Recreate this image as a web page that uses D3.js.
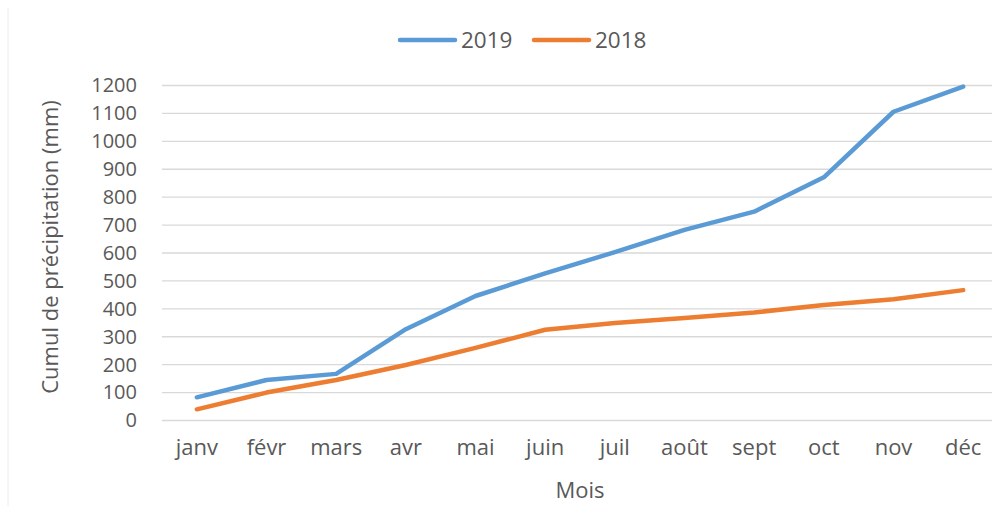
<!DOCTYPE html>
<html>
<head>
<meta charset="utf-8">
<script src="https://cdn.jsdelivr.net/npm/d3@7"></script>
<style>
body { margin: 0; background: #fff; }
text { font-family: "Open Sans", sans-serif; fill: #595959; }
</style>
</head>
<body>
<svg width="992" height="506"></svg>
<script>
// months and cumulative rainfall (mm)
var months = ["janv", "févr", "mars", "avr", "mai", "juin", "juil", "août", "sept", "oct", "nov", "déc"];
var rain2019 = [83, 145, 167, 327, 446, 527, 603, 683, 748, 871, 1106, 1196];
var rain2018 = [40, 100, 145, 199, 260, 325, 349, 367, 387, 414, 434, 467];
var yTicks = [0, 100, 200, 300, 400, 500, 600, 700, 800, 900, 1000, 1100, 1200];
var seriesNames = ["2019", "2018"];
var seriesColors = ["#5b9bd5", "#ed7d31"];

var svg = d3.select("svg"),
margin = {top: 85.5, right: -6, bottom: 85.5, left: 162},
width = +svg.attr("width") - margin.left - margin.right,
height = +svg.attr("height") - margin.top - margin.bottom;

// faint chart frame on the left
svg.append("line")
.attr("x1", 8).attr("x2", 8)
.attr("y1", 8).attr("y2", 506)
.style("stroke", "#ececec")
.style("stroke-width", 1);

var g = svg.append("g")
.attr("transform", "translate(" + margin.left + "," + margin.top + ")");

var x = d3.scaleBand().domain(months).range([0, width]),
y = d3.scaleLinear().domain([0, 1200]).range([height, 0]);

// gridlines
g.selectAll(".grid")
.data(yTicks)
.enter().append("line")
.attr("class", "grid")
.attr("x1", 0).attr("x2", width)
.attr("y1", function(d) { return y(d); })
.attr("y2", function(d) { return y(d); })
.style("stroke", "#d9d9d9")
.style("stroke-width", 1.3);

// y axis labels
var yAxis = g.append("g").call(d3.axisLeft(y).tickValues(yTicks).tickFormat(d3.format("d")).tickSize(0).tickPadding(25));
yAxis.select(".domain").remove();
yAxis.selectAll("text").style("font-size", "20px").style("fill", "#595959");

// x axis labels
var xAxis = g.append("g")
.attr("transform", "translate(0," + height + ")")
.call(d3.axisBottom(x).tickSize(0).tickPadding(19));
xAxis.select(".domain").remove();
xAxis.selectAll("text").style("font-size", "22px").style("fill", "#595959");

// axis titles
svg.append("text")
.attr("transform", "translate(58," + (margin.top + height / 2 - 6) + ") rotate(-90)")
.attr("text-anchor", "middle")
.style("font-size", "22px")
.text("Cumul de précipitation (mm)");

svg.append("text")
.attr("x", margin.left + width / 2)
.attr("y", 498)
.attr("text-anchor", "middle")
.style("font-size", "22px")
.text("Mois");

// lines
var line = d3.line()
.x(function(d, i) { return x(months[i]) + x.bandwidth() / 2; })
.y(function(d) { return y(d); });

[rain2019, rain2018].forEach(function(data, k) {
  g.append("path")
  .datum(data)
  .attr("d", line)
  .style("fill", "none")
  .style("stroke", seriesColors[k])
  .style("stroke-width", 4.5)
  .style("stroke-linecap", "round")
  .style("stroke-linejoin", "round");
});

// legend
var legend = svg.selectAll(".legend")
.data(seriesNames)
.enter().append("g")
.attr("class", "legend")
.attr("transform", function(d, i) { return "translate(" + (400 + i * 134) + ",40)"; });

legend.append("line")
.attr("x1", 0).attr("x2", 55)
.attr("y1", 0).attr("y2", 0)
.style("stroke", function(d, i) { return seriesColors[i]; })
.style("stroke-width", 4.5)
.style("stroke-linecap", "round");

legend.append("text")
.attr("x", 61)
.attr("y", 8)
.style("font-family", "'Liberation Sans Narrow', 'Open Sans', sans-serif")
.style("font-size", "22.5px")
.text(function(d) { return d; });
</script>
</body>
</html>
